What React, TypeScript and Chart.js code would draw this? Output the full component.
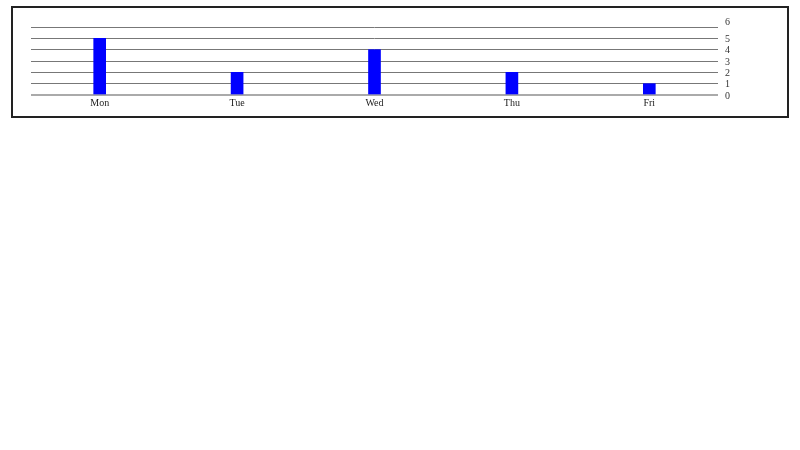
import { useEffect, useRef } from 'react';
import { Chart, registerables } from 'chart.js';

Chart.register(...registerables);

const days = ['Mon', 'Tue', 'Wed', 'Thu', 'Fri'];
const counts = [5, 2, 4, 2, 1];
const yTicks = [0, 1, 2, 3, 4, 5, 6];

export default function App() {
  const chartRef = useRef<HTMLCanvasElement>(null);
  const chartInstance = useRef<Chart | null>(null);

  useEffect(() => {
    if (!chartRef.current) return;
    const ctx = chartRef.current.getContext('2d');
    if (!ctx) return;

    chartInstance.current = new Chart(ctx, {
      type: 'bar',
      data: {
        labels: days,
        datasets: [
          {
            data: counts,
            backgroundColor: '#0000ff',
            barThickness: 12,
            borderWidth: 0
          }
        ]
      },
      options: {
        animation: false,
        responsive: true,
        maintainAspectRatio: false,
        layout: { padding: { left: 18, top: 8, right: 50, bottom: 5 } },
        plugins: {
          legend: { display: false },
          tooltip: { enabled: false }
        },
        scales: {
          x: {
            grid: { display: false, drawTicks: false },
            border: { display: false },
            ticks: {
              color: '#222',
              font: { family: '"Liberation Serif", serif', size: 10 },
              padding: 2,
              maxRotation: 0
            }
          },
          y: {
            position: 'right',
            min: 0,
            max: yTicks[yTicks.length - 1],
            afterBuildTicks: (axis) => {
              axis.ticks = yTicks.map(v => ({ value: v }));
            },
            grid: {
              color: (c) => (c.tick && c.tick.value === 0 ? '#aaa' : '#777'),
              lineWidth: (c) => (c.tick && c.tick.value === 0 ? 2 : 1),
              drawTicks: false
            },
            border: { display: false },
            ticks: {
              autoSkip: false,
              color: '#333',
              font: { family: '"Liberation Serif", serif', size: 10 },
              padding: 7,
              labelOffset: 1,
              callback: (v) => (Number(v) === yTicks[yTicks.length - 1] ? [String(v), ''] : String(v))
            }
          }
        }
      }
    });

    return () => {
      if (chartInstance.current) {
        chartInstance.current.destroy();
        chartInstance.current = null;
      }
    };
  }, []);

  return (
    <div style={{
      position: 'absolute',
      left: 11,
      top: 6,
      width: 778,
      height: 112,
      border: '2px solid #222',
      boxSizing: 'border-box',
      background: 'white'
    }}>
      <div style={{ position: 'relative', width: 774, height: 108 }}>
        <canvas ref={chartRef} />
      </div>
    </div>
  );
}
